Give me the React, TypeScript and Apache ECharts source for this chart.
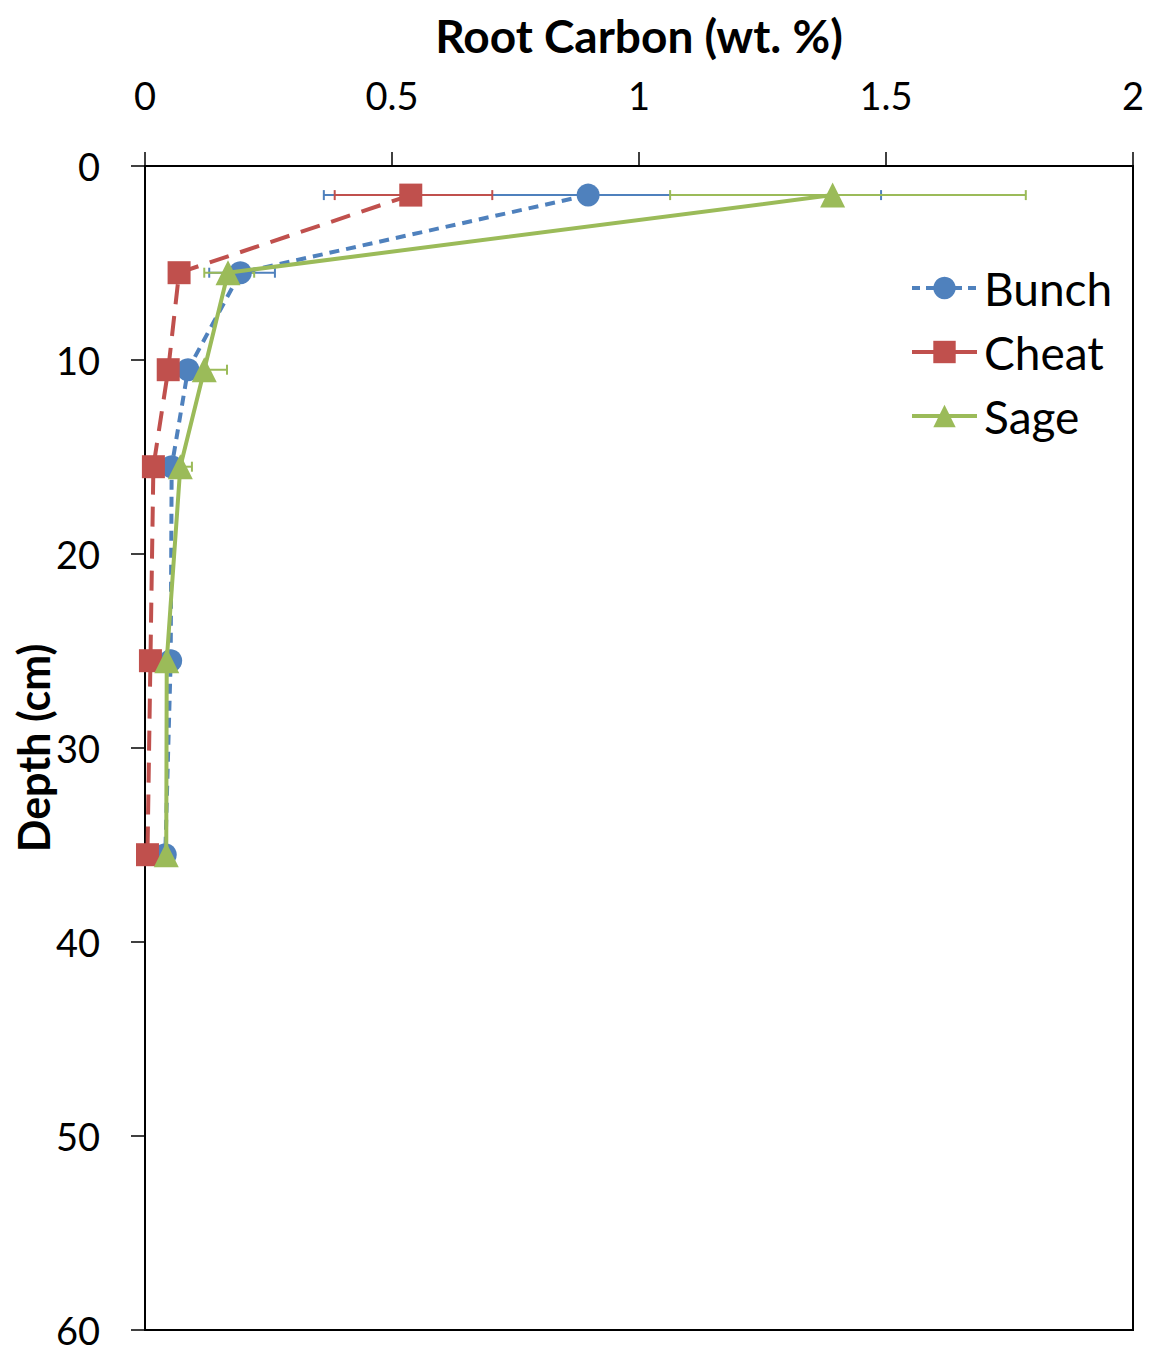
import React, { useEffect, useRef } from "react";
import * as echarts from "echarts";

// Depth midpoints of the sampled soil intervals (cm)
const depths = [1.5, 5.5, 10.5, 15.5, 25.5, 35.5];

// Root carbon (wt. %) per community
const bunchValues = [0.897, 0.193, 0.087, 0.054, 0.052, 0.041];
const cheatValues = [0.538, 0.069, 0.047, 0.017, 0.011, 0.005];
const sageValues = [1.392, 0.168, 0.12, 0.0715, 0.044, 0.043];

// Error-bar extents (low / high), null where no bar is drawn
const bunchLow = [0.362, 0.13, null, null, null, null];
const bunchHigh = [1.49, 0.263, null, null, null, null];
const cheatLow = [0.384, null, null, null, null, null];
const cheatHigh = [0.703, null, null, null, null, null];
const sageLow = [1.063, 0.12, 0.074, 0.048, null, null];
const sageHigh = [1.783, 0.221, 0.166, 0.095, null, null];

const xTicks = [0, 0.5, 1, 1.5, 2];
const yMax = 60;

const BLUE = "#4F81BD";
const RED = "#C0504D";
const GREEN = "#9BBB59";
const FONT = "Lato";

function pairs(values: number[]) {
  return values.map((v, i) => [v, depths[i]]);
}

function errRows(low: (number | null)[], high: (number | null)[]) {
  const rows: number[][] = [];
  low.forEach((l, i) => {
    const h = high[i];
    if (l != null && h != null) rows.push([l, h, depths[i]]);
  });
  return rows;
}

function errorSeries(name: string, color: string, low: (number | null)[], high: (number | null)[]) {
  return {
    type: "custom",
    name: name + " error",
    data: errRows(low, high),
    encode: { x: [0, 1], y: 2 },
    silent: true,
    z: 2,
    renderItem: (params: any, api: any) => {
      const a = api.coord([api.value(0), api.value(2)]);
      const b = api.coord([api.value(1), api.value(2)]);
      const cap = 5;
      const style = { stroke: color, lineWidth: 2 };
      return {
        type: "group",
        children: [
          { type: "line", shape: { x1: a[0], y1: a[1], x2: b[0], y2: b[1] }, style },
          { type: "line", shape: { x1: a[0], y1: a[1] - cap, x2: a[0], y2: a[1] + cap }, style },
          { type: "line", shape: { x1: b[0], y1: b[1] - cap, x2: b[0], y2: b[1] + cap }, style },
        ],
      };
    },
  };
}

export default function App() {
  const ref = useRef<HTMLDivElement>(null);

  useEffect(() => {
    if (!ref.current) return;
    const chart = echarts.init(ref.current, null, { renderer: "svg" });
    const axisText = { color: "#000", fontFamily: FONT, fontSize: 38, lineHeight: 34 };
    chart.setOption({
      animation: false,
      backgroundColor: "#fff",
      grid: {
        left: 145,
        top: 166,
        width: 988,
        height: 1164,
        containLabel: false,
        outerBoundsMode: "none",
        show: true,
        borderColor: "#000",
        borderWidth: 2,
        backgroundColor: "transparent",
      },
      legend: {
        data: [
          { name: "Bunch", lineStyle: { width: 4, type: [8, 6] } },
          { name: "Cheat", lineStyle: { width: 4, type: "solid" } },
          { name: "Sage", lineStyle: { width: 4, type: "solid" } },
        ],
        orient: "vertical",
        left: 910,
        top: 263,
        padding: 0,
        itemWidth: 65,
        itemHeight: 28,
        itemGap: 14,
        textStyle: { color: "#000", fontFamily: FONT, fontSize: 46, lineHeight: 50, padding: [0, 0, 0, 2] },
      },
      xAxis: {
        type: "value",
        position: "top",
        min: xTicks[0],
        max: xTicks[xTicks.length - 1],
        interval: 0.5,
        name: "Root Carbon (wt. %)",
        nameLocation: "middle",
        nameGap: 108,
        nameMoveOverlap: false,
        nameTextStyle: { color: "#000", fontFamily: FONT, fontSize: 46, fontWeight: "bold" },
        axisLine: { show: true, lineStyle: { color: "#000", width: 2 } },
        axisTick: { show: true, inside: false, length: 14, lineStyle: { color: "#000", width: 1.5 } },
        axisLabel: { ...axisText, margin: 54 },
        splitLine: { show: false },
      },
      yAxis: {
        type: "value",
        inverse: true,
        min: 0,
        max: yMax,
        interval: 10,
        name: "Depth (cm)",
        nameLocation: "middle",
        nameGap: 90,
        nameMoveOverlap: false,
        nameRotate: 90,
        nameTextStyle: { color: "#000", fontFamily: FONT, fontSize: 43, fontWeight: "bold", lineHeight: 44 },
        axisLine: { show: true, lineStyle: { color: "#000", width: 2 } },
        axisTick: { show: true, inside: false, length: 14, lineStyle: { color: "#000", width: 1.5 } },
        axisLabel: { ...axisText, margin: 45, padding: [0, 0, 6, 0] },
        splitLine: { show: false },
      },
      series: [
        errorSeries("Bunch", BLUE, bunchLow, bunchHigh),
        {
          type: "line",
          name: "Bunch",
          data: pairs(bunchValues),
          symbol: "circle",
          symbolSize: 23,
          z: 3,
          itemStyle: { color: BLUE },
          lineStyle: { color: BLUE, width: 4, type: [10, 7] },
        },
        errorSeries("Cheat", RED, cheatLow, cheatHigh),
        {
          type: "line",
          name: "Cheat",
          data: pairs(cheatValues),
          symbol: "rect",
          symbolSize: 23,
          z: 4,
          itemStyle: { color: RED },
          lineStyle: { color: RED, width: 4, type: [20, 12] },
        },
        errorSeries("Sage", GREEN, sageLow, sageHigh),
        {
          type: "line",
          name: "Sage",
          data: pairs(sageValues),
          symbol: "triangle",
          symbolSize: 25,
          z: 5,
          itemStyle: { color: GREEN },
          lineStyle: { color: GREEN, width: 4 },
        },
      ],
    });
    return () => chart.dispose();
  }, []);

  return (
    <div
      ref={ref}
      style={{ position: "fixed", left: 0, top: 0, width: 1149, height: 1348 }}
    />
  );
}
